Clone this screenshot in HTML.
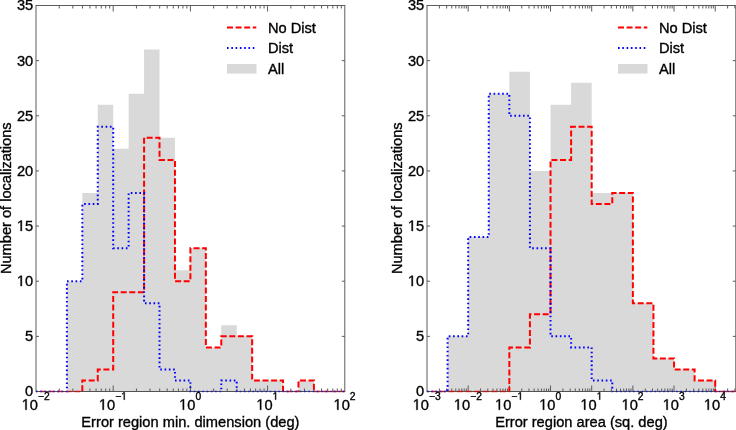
<!DOCTYPE html>
<html><head><meta charset="utf-8"><style>
html,body{margin:0;padding:0;background:#fff;}
body{width:736px;height:430px;overflow:hidden;}
svg{display:block;will-change:transform;}
.t{font-family:"Liberation Sans",sans-serif;font-size:14.65px;fill:#000;stroke:#000;stroke-width:0.35px;}
.s{font-size:10.3px;}
.yl{font-size:14.6px;}
.o1{fill:transparent;stroke:none;}
.g1{fill:#000;stroke:#000;stroke-width:0.35px;}
</style></head><body>
<svg width="736" height="430" viewBox="0 0 736 430">
<defs><clipPath id="c0"><rect x="35.0" y="4.5" width="310.8" height="387.7"/></clipPath><clipPath id="c1"><rect x="426.0" y="4.5" width="310.79999999999995" height="387.7"/></clipPath></defs>
<polygon points="36.00,391.50 36.00,391.50 51.44,391.50 51.44,391.50 66.88,391.50 66.88,281.21 82.32,281.21 82.32,192.99 97.76,192.99 97.76,104.76 113.20,104.76 113.20,148.87 128.64,148.87 128.64,93.73 144.08,93.73 144.08,49.61 159.52,49.61 159.52,137.84 174.96,137.84 174.96,270.19 190.40,270.19 190.40,248.13 205.84,248.13 205.84,347.39 221.28,347.39 221.28,325.33 236.72,325.33 236.72,336.36 252.16,336.36 252.16,380.47 267.60,380.47 267.60,380.47 283.04,380.47 283.04,391.50 298.48,391.50 298.48,380.47 313.92,380.47 313.92,391.50 329.36,391.50 329.36,391.50 344.80,391.50 344.80,391.50" fill="#d9d9d9"/>
<path d="M59.24,391.5v-3M59.24,5.5v3M72.83,391.5v-3M72.83,5.5v3M82.48,391.5v-3M82.48,5.5v3M89.96,391.5v-3M89.96,5.5v3M96.07,391.5v-3M96.07,5.5v3M101.24,391.5v-3M101.24,5.5v3M105.72,391.5v-3M105.72,5.5v3M109.67,391.5v-3M109.67,5.5v3M113.20,391.5v-6M113.20,5.5v6M136.44,391.5v-3M136.44,5.5v3M150.03,391.5v-3M150.03,5.5v3M159.68,391.5v-3M159.68,5.5v3M167.16,391.5v-3M167.16,5.5v3M173.27,391.5v-3M173.27,5.5v3M178.44,391.5v-3M178.44,5.5v3M182.92,391.5v-3M182.92,5.5v3M186.87,391.5v-3M186.87,5.5v3M190.40,391.5v-6M190.40,5.5v6M213.64,391.5v-3M213.64,5.5v3M227.23,391.5v-3M227.23,5.5v3M236.88,391.5v-3M236.88,5.5v3M244.36,391.5v-3M244.36,5.5v3M250.47,391.5v-3M250.47,5.5v3M255.64,391.5v-3M255.64,5.5v3M260.12,391.5v-3M260.12,5.5v3M264.07,391.5v-3M264.07,5.5v3M267.60,391.5v-6M267.60,5.5v6M290.84,391.5v-3M290.84,5.5v3M304.43,391.5v-3M304.43,5.5v3M314.08,391.5v-3M314.08,5.5v3M321.56,391.5v-3M321.56,5.5v3M327.67,391.5v-3M327.67,5.5v3M332.84,391.5v-3M332.84,5.5v3M337.32,391.5v-3M337.32,5.5v3M341.27,391.5v-3M341.27,5.5v3M36.0,336.36h3M344.8,336.36h-3M36.0,281.21h3M344.8,281.21h-3M36.0,226.07h3M344.8,226.07h-3M36.0,170.93h3M344.8,170.93h-3M36.0,115.79h3M344.8,115.79h-3M36.0,60.64h3M344.8,60.64h-3" stroke="#5c5c5c" stroke-width="1" fill="none"/>
<rect x="36.0" y="5.5" width="308.8" height="386.0" fill="none" stroke="#5c5c5c" stroke-width="1"/>
<g clip-path="url(#c0)">
<polyline points="36.00,391.80 36.00,391.80 51.44,391.80 51.44,391.80 66.88,391.80 66.88,391.80 82.32,391.80 82.32,380.47 97.76,380.47 97.76,369.44 113.20,369.44 113.20,292.24 128.64,292.24 128.64,292.24 144.08,292.24 144.08,137.84 159.52,137.84 159.52,159.90 174.96,159.90 174.96,281.21 190.40,281.21 190.40,248.13 205.84,248.13 205.84,347.39 221.28,347.39 221.28,336.36 236.72,336.36 236.72,336.36 252.16,336.36 252.16,380.47 267.60,380.47 267.60,380.47 283.04,380.47 283.04,391.80 298.48,391.80 298.48,380.47 313.92,380.47 313.92,391.80 329.36,391.80 329.36,391.80 344.80,391.80 344.80,391.80" fill="none" stroke="#ff0000" stroke-width="2.0" stroke-dasharray="5.99,2.60" stroke-dashoffset="4.74" stroke-linejoin="miter" stroke-linecap="butt"/>
<polyline points="36.00,391.80 36.00,391.80 51.44,391.80 51.44,391.80 66.88,391.80 66.88,281.21 82.32,281.21 82.32,204.01 97.76,204.01 97.76,126.81 113.20,126.81 113.20,248.13 128.64,248.13 128.64,192.99 144.08,192.99 144.08,303.27 159.52,303.27 159.52,369.44 174.96,369.44 174.96,380.47 190.40,380.47 190.40,391.80 205.84,391.80 205.84,391.80 221.28,391.80 221.28,380.47 236.72,380.47 236.72,391.80 252.16,391.80 252.16,391.80 267.60,391.80 267.60,391.80 283.04,391.80 283.04,391.80 298.48,391.80 298.48,391.80 313.92,391.80 313.92,391.80 329.36,391.80 329.36,391.80 344.80,391.80 344.80,391.80" fill="none" stroke="#0000ff" stroke-width="2.0" stroke-dasharray="1.62,2.67" stroke-dashoffset="0" stroke-linejoin="miter" stroke-linecap="butt"/>
</g>
<line x1="36.0" y1="391.5" x2="344.8" y2="391.5" stroke="rgba(70,70,70,0.45)" stroke-width="1"/>
<text x="33.20" y="396.40" text-anchor="end" class="t" transform="matrix(1,0,0,1.04,0,-15.856)">0</text>
<text x="33.20" y="341.26" text-anchor="end" class="t" transform="matrix(1,0,0,1.04,0,-13.650)">5</text>
<text x="33.20" y="286.11" text-anchor="end" class="t" transform="matrix(1,0,0,1.04,0,-11.445)"><tspan class="o1">1</tspan>0</text>
<text x="33.20" y="230.97" text-anchor="end" class="t" transform="matrix(1,0,0,1.04,0,-9.239)"><tspan class="o1">1</tspan>5</text>
<text x="33.20" y="175.83" text-anchor="end" class="t" transform="matrix(1,0,0,1.04,0,-7.033)">20</text>
<text x="33.20" y="120.69" text-anchor="end" class="t" transform="matrix(1,0,0,1.04,0,-4.827)">25</text>
<text x="33.20" y="65.54" text-anchor="end" class="t" transform="matrix(1,0,0,1.04,0,-2.622)">30</text>
<text x="33.20" y="10.40" text-anchor="end" class="t" transform="matrix(1,0,0,1.04,0,-0.416)">35</text>
<text x="35.70" y="409.8" text-anchor="middle" class="t" transform="matrix(1,0,0,1.04,0,-16.392)"><tspan class="o1">1</tspan>0<tspan class="s" dy="-9.7">−2</tspan></text>
<text x="112.90" y="409.8" text-anchor="middle" class="t" transform="matrix(1,0,0,1.04,0,-16.392)"><tspan class="o1">1</tspan>0<tspan class="s" dy="-9.7">−<tspan class="o1">1</tspan></tspan></text>
<text x="190.10" y="409.8" text-anchor="middle" class="t" transform="matrix(1,0,0,1.04,0,-16.392)"><tspan class="o1">1</tspan>0<tspan class="s" dy="-9.7">0</tspan></text>
<text x="267.30" y="409.8" text-anchor="middle" class="t" transform="matrix(1,0,0,1.04,0,-16.392)"><tspan class="o1">1</tspan>0<tspan class="s" dy="-9.7"><tspan class="o1">1</tspan></tspan></text>
<text x="344.50" y="409.8" text-anchor="middle" class="t" transform="matrix(1,0,0,1.04,0,-16.392)"><tspan class="o1">1</tspan>0<tspan class="s" dy="-9.7">2</tspan></text>
<text x="190.40" y="427.0" text-anchor="middle" class="t">Error region min. dimension (deg)</text>
<text transform="translate(11.20,198.2) rotate(-90)" x="0" y="0" text-anchor="middle" class="t yl">Number of localizations</text>
<line x1="227.00" y1="27.5" x2="256.30" y2="27.5" stroke="#ff0000" stroke-width="2.0" stroke-dasharray="5.99,2.60"/>
<line x1="227.00" y1="47.9" x2="256.30" y2="47.9" stroke="#0000ff" stroke-width="2.0" stroke-dasharray="1.62,2.67"/>
<rect x="227.00" y="64" width="29.5" height="9.6" fill="#d9d9d9"/>
<text x="267.90" y="32.7" class="t">No Dist</text>
<text x="267.90" y="53.3" class="t">Dist</text>
<text x="267.90" y="73.7" class="t">All</text>
<polygon points="427.00,391.50 427.00,391.50 447.59,391.50 447.59,336.36 468.17,336.36 468.17,237.10 488.76,237.10 488.76,93.73 509.35,93.73 509.35,71.67 529.93,71.67 529.93,170.93 550.52,170.93 550.52,104.76 571.11,104.76 571.11,82.70 591.69,82.70 591.69,192.99 612.28,192.99 612.28,192.99 632.87,192.99 632.87,303.27 653.45,303.27 653.45,358.41 674.04,358.41 674.04,369.44 694.63,369.44 694.63,380.47 715.21,380.47 715.21,391.50 735.80,391.50 735.80,391.50" fill="#d9d9d9"/>
<path d="M439.39,391.5v-3M439.39,5.5v3M446.64,391.5v-3M446.64,5.5v3M451.79,391.5v-3M451.79,5.5v3M455.78,391.5v-3M455.78,5.5v3M459.04,391.5v-3M459.04,5.5v3M461.80,391.5v-3M461.80,5.5v3M464.18,391.5v-3M464.18,5.5v3M466.29,391.5v-3M466.29,5.5v3M468.17,391.5v-6M468.17,5.5v6M480.57,391.5v-3M480.57,5.5v3M487.82,391.5v-3M487.82,5.5v3M492.96,391.5v-3M492.96,5.5v3M496.95,391.5v-3M496.95,5.5v3M500.21,391.5v-3M500.21,5.5v3M502.97,391.5v-3M502.97,5.5v3M505.36,391.5v-3M505.36,5.5v3M507.46,391.5v-3M507.46,5.5v3M509.35,391.5v-6M509.35,5.5v6M521.74,391.5v-3M521.74,5.5v3M528.99,391.5v-3M528.99,5.5v3M534.14,391.5v-3M534.14,5.5v3M538.13,391.5v-3M538.13,5.5v3M541.39,391.5v-3M541.39,5.5v3M544.14,391.5v-3M544.14,5.5v3M546.53,391.5v-3M546.53,5.5v3M548.64,391.5v-3M548.64,5.5v3M550.52,391.5v-6M550.52,5.5v6M562.91,391.5v-3M562.91,5.5v3M570.16,391.5v-3M570.16,5.5v3M575.31,391.5v-3M575.31,5.5v3M579.30,391.5v-3M579.30,5.5v3M582.56,391.5v-3M582.56,5.5v3M585.32,391.5v-3M585.32,5.5v3M587.70,391.5v-3M587.70,5.5v3M589.81,391.5v-3M589.81,5.5v3M591.69,391.5v-6M591.69,5.5v6M604.09,391.5v-3M604.09,5.5v3M611.34,391.5v-3M611.34,5.5v3M616.48,391.5v-3M616.48,5.5v3M620.47,391.5v-3M620.47,5.5v3M623.73,391.5v-3M623.73,5.5v3M626.49,391.5v-3M626.49,5.5v3M628.88,391.5v-3M628.88,5.5v3M630.98,391.5v-3M630.98,5.5v3M632.87,391.5v-6M632.87,5.5v6M645.26,391.5v-3M645.26,5.5v3M652.51,391.5v-3M652.51,5.5v3M657.66,391.5v-3M657.66,5.5v3M661.65,391.5v-3M661.65,5.5v3M664.91,391.5v-3M664.91,5.5v3M667.66,391.5v-3M667.66,5.5v3M670.05,391.5v-3M670.05,5.5v3M672.16,391.5v-3M672.16,5.5v3M674.04,391.5v-6M674.04,5.5v6M686.43,391.5v-3M686.43,5.5v3M693.68,391.5v-3M693.68,5.5v3M698.83,391.5v-3M698.83,5.5v3M702.82,391.5v-3M702.82,5.5v3M706.08,391.5v-3M706.08,5.5v3M708.84,391.5v-3M708.84,5.5v3M711.22,391.5v-3M711.22,5.5v3M713.33,391.5v-3M713.33,5.5v3M715.21,391.5v-6M715.21,5.5v6M727.61,391.5v-3M727.61,5.5v3M734.86,391.5v-3M734.86,5.5v3M427.0,336.36h3M735.8,336.36h-3M427.0,281.21h3M735.8,281.21h-3M427.0,226.07h3M735.8,226.07h-3M427.0,170.93h3M735.8,170.93h-3M427.0,115.79h3M735.8,115.79h-3M427.0,60.64h3M735.8,60.64h-3" stroke="#5c5c5c" stroke-width="1" fill="none"/>
<rect x="427.0" y="5.5" width="308.79999999999995" height="386.0" fill="none" stroke="#5c5c5c" stroke-width="1"/>
<g clip-path="url(#c1)">
<polyline points="427.00,391.80 427.00,391.80 447.59,391.80 447.59,391.80 468.17,391.80 468.17,391.80 488.76,391.80 488.76,391.80 509.35,391.80 509.35,347.39 529.93,347.39 529.93,314.30 550.52,314.30 550.52,159.90 571.11,159.90 571.11,126.81 591.69,126.81 591.69,204.01 612.28,204.01 612.28,192.99 632.87,192.99 632.87,303.27 653.45,303.27 653.45,358.41 674.04,358.41 674.04,369.44 694.63,369.44 694.63,380.47 715.21,380.47 715.21,391.80 735.80,391.80 735.80,391.80" fill="none" stroke="#ff0000" stroke-width="2.0" stroke-dasharray="5.99,2.60" stroke-dashoffset="4.4" stroke-linejoin="miter" stroke-linecap="butt"/>
<polyline points="427.00,391.80 427.00,391.80 447.59,391.80 447.59,336.36 468.17,336.36 468.17,237.10 488.76,237.10 488.76,93.73 509.35,93.73 509.35,115.79 529.93,115.79 529.93,248.13 550.52,248.13 550.52,336.36 571.11,336.36 571.11,347.39 591.69,347.39 591.69,380.47 612.28,380.47 612.28,391.80 632.87,391.80 632.87,391.80 653.45,391.80 653.45,391.80 674.04,391.80 674.04,391.80 694.63,391.80 694.63,391.80 715.21,391.80 715.21,391.80 735.80,391.80 735.80,391.80" fill="none" stroke="#0000ff" stroke-width="2.0" stroke-dasharray="1.62,2.67" stroke-dashoffset="0" stroke-linejoin="miter" stroke-linecap="butt"/>
</g>
<line x1="427.0" y1="391.5" x2="735.8" y2="391.5" stroke="rgba(70,70,70,0.45)" stroke-width="1"/>
<text x="424.20" y="396.40" text-anchor="end" class="t" transform="matrix(1,0,0,1.04,0,-15.856)">0</text>
<text x="424.20" y="341.26" text-anchor="end" class="t" transform="matrix(1,0,0,1.04,0,-13.650)">5</text>
<text x="424.20" y="286.11" text-anchor="end" class="t" transform="matrix(1,0,0,1.04,0,-11.445)"><tspan class="o1">1</tspan>0</text>
<text x="424.20" y="230.97" text-anchor="end" class="t" transform="matrix(1,0,0,1.04,0,-9.239)"><tspan class="o1">1</tspan>5</text>
<text x="424.20" y="175.83" text-anchor="end" class="t" transform="matrix(1,0,0,1.04,0,-7.033)">20</text>
<text x="424.20" y="120.69" text-anchor="end" class="t" transform="matrix(1,0,0,1.04,0,-4.827)">25</text>
<text x="424.20" y="65.54" text-anchor="end" class="t" transform="matrix(1,0,0,1.04,0,-2.622)">30</text>
<text x="424.20" y="10.40" text-anchor="end" class="t" transform="matrix(1,0,0,1.04,0,-0.416)">35</text>
<text x="426.70" y="409.8" text-anchor="middle" class="t" transform="matrix(1,0,0,1.04,0,-16.392)"><tspan class="o1">1</tspan>0<tspan class="s" dy="-9.7">−3</tspan></text>
<text x="467.87" y="409.8" text-anchor="middle" class="t" transform="matrix(1,0,0,1.04,0,-16.392)"><tspan class="o1">1</tspan>0<tspan class="s" dy="-9.7">−2</tspan></text>
<text x="509.05" y="409.8" text-anchor="middle" class="t" transform="matrix(1,0,0,1.04,0,-16.392)"><tspan class="o1">1</tspan>0<tspan class="s" dy="-9.7">−<tspan class="o1">1</tspan></tspan></text>
<text x="550.22" y="409.8" text-anchor="middle" class="t" transform="matrix(1,0,0,1.04,0,-16.392)"><tspan class="o1">1</tspan>0<tspan class="s" dy="-9.7">0</tspan></text>
<text x="591.39" y="409.8" text-anchor="middle" class="t" transform="matrix(1,0,0,1.04,0,-16.392)"><tspan class="o1">1</tspan>0<tspan class="s" dy="-9.7"><tspan class="o1">1</tspan></tspan></text>
<text x="632.57" y="409.8" text-anchor="middle" class="t" transform="matrix(1,0,0,1.04,0,-16.392)"><tspan class="o1">1</tspan>0<tspan class="s" dy="-9.7">2</tspan></text>
<text x="673.74" y="409.8" text-anchor="middle" class="t" transform="matrix(1,0,0,1.04,0,-16.392)"><tspan class="o1">1</tspan>0<tspan class="s" dy="-9.7">3</tspan></text>
<text x="714.91" y="409.8" text-anchor="middle" class="t" transform="matrix(1,0,0,1.04,0,-16.392)"><tspan class="o1">1</tspan>0<tspan class="s" dy="-9.7">4</tspan></text>
<text x="581.40" y="427.0" text-anchor="middle" class="t">Error region area (sq. deg)</text>
<text transform="translate(402.20,198.2) rotate(-90)" x="0" y="0" text-anchor="middle" class="t yl">Number of localizations</text>
<line x1="618.00" y1="27.5" x2="647.30" y2="27.5" stroke="#ff0000" stroke-width="2.0" stroke-dasharray="5.99,2.60"/>
<line x1="618.00" y1="47.9" x2="647.30" y2="47.9" stroke="#0000ff" stroke-width="2.0" stroke-dasharray="1.62,2.67"/>
<rect x="618.00" y="64" width="29.5" height="9.6" fill="#d9d9d9"/>
<text x="658.90" y="32.7" class="t">No Dist</text>
<text x="658.90" y="53.3" class="t">Dist</text>
<text x="658.90" y="73.7" class="t">All</text>
<path class="g1" transform="matrix(1,0,0,1.04,0,-11.445)" d="M20.59,286.11L20.59,277.26L18.31,278.89L18.31,277.67L20.70,276.03L21.88,276.03L21.88,286.11Z"/>
<path class="g1" transform="matrix(1,0,0,1.04,0,-9.239)" d="M20.59,230.97L20.59,222.12L18.31,223.75L18.31,222.53L20.70,220.89L21.88,220.89L21.88,230.97Z"/>
<path class="g1" transform="matrix(1,0,0,1.04,0,-16.392)" d="M25.36,409.80L25.36,400.95L23.09,402.58L23.09,401.36L25.47,399.72L26.66,399.72L26.66,409.80Z"/>
<path class="g1" transform="matrix(1,0,0,1.04,0,-16.392)" d="M102.56,409.80L102.56,400.95L100.29,402.58L100.29,401.36L102.67,399.72L103.86,399.72L103.86,409.80Z"/>
<path class="g1" transform="matrix(1,0,0,1.04,0,-16.392)" d="M123.78,400.10L123.78,393.88L122.18,395.02L122.18,394.17L123.86,393.01L124.69,393.01L124.69,400.10Z"/>
<path class="g1" transform="matrix(1,0,0,1.04,0,-16.392)" d="M182.77,409.80L182.77,400.95L180.50,402.58L180.50,401.36L182.88,399.72L184.07,399.72L184.07,409.80Z"/>
<path class="g1" transform="matrix(1,0,0,1.04,0,-16.392)" d="M259.97,409.80L259.97,400.95L257.70,402.58L257.70,401.36L260.08,399.72L261.27,399.72L261.27,409.80Z"/>
<path class="g1" transform="matrix(1,0,0,1.04,0,-16.392)" d="M275.17,400.10L275.17,393.88L273.57,395.02L273.57,394.17L275.25,393.01L276.08,393.01L276.08,400.10Z"/>
<path class="g1" transform="matrix(1,0,0,1.04,0,-16.392)" d="M337.17,409.80L337.17,400.95L334.90,402.58L334.90,401.36L337.28,399.72L338.47,399.72L338.47,409.80Z"/>
<path class="g1" transform="matrix(1,0,0,1.04,0,-11.445)" d="M411.59,286.11L411.59,277.26L409.31,278.89L409.31,277.67L411.70,276.03L412.88,276.03L412.88,286.11Z"/>
<path class="g1" transform="matrix(1,0,0,1.04,0,-9.239)" d="M411.59,230.97L411.59,222.12L409.31,223.75L409.31,222.53L411.70,220.89L412.88,220.89L412.88,230.97Z"/>
<path class="g1" transform="matrix(1,0,0,1.04,0,-16.392)" d="M416.36,409.80L416.36,400.95L414.09,402.58L414.09,401.36L416.47,399.72L417.66,399.72L417.66,409.80Z"/>
<path class="g1" transform="matrix(1,0,0,1.04,0,-16.392)" d="M457.53,409.80L457.53,400.95L455.26,402.58L455.26,401.36L457.64,399.72L458.83,399.72L458.83,409.80Z"/>
<path class="g1" transform="matrix(1,0,0,1.04,0,-16.392)" d="M498.71,409.80L498.71,400.95L496.44,402.58L496.44,401.36L498.82,399.72L500.01,399.72L500.01,409.80Z"/>
<path class="g1" transform="matrix(1,0,0,1.04,0,-16.392)" d="M519.93,400.10L519.93,393.88L518.33,395.02L518.33,394.17L520.01,393.01L520.84,393.01L520.84,400.10Z"/>
<path class="g1" transform="matrix(1,0,0,1.04,0,-16.392)" d="M542.89,409.80L542.89,400.95L540.62,402.58L540.62,401.36L543.00,399.72L544.19,399.72L544.19,409.80Z"/>
<path class="g1" transform="matrix(1,0,0,1.04,0,-16.392)" d="M584.06,409.80L584.06,400.95L581.79,402.58L581.79,401.36L584.17,399.72L585.36,399.72L585.36,409.80Z"/>
<path class="g1" transform="matrix(1,0,0,1.04,0,-16.392)" d="M599.26,400.10L599.26,393.88L597.66,395.02L597.66,394.17L599.34,393.01L600.17,393.01L600.17,400.10Z"/>
<path class="g1" transform="matrix(1,0,0,1.04,0,-16.392)" d="M625.24,409.80L625.24,400.95L622.97,402.58L622.97,401.36L625.35,399.72L626.54,399.72L626.54,409.80Z"/>
<path class="g1" transform="matrix(1,0,0,1.04,0,-16.392)" d="M666.41,409.80L666.41,400.95L664.14,402.58L664.14,401.36L666.52,399.72L667.71,399.72L667.71,409.80Z"/>
<path class="g1" transform="matrix(1,0,0,1.04,0,-16.392)" d="M707.58,409.80L707.58,400.95L705.31,402.58L705.31,401.36L707.69,399.72L708.88,399.72L708.88,409.80Z"/>
</svg>
</body></html>
